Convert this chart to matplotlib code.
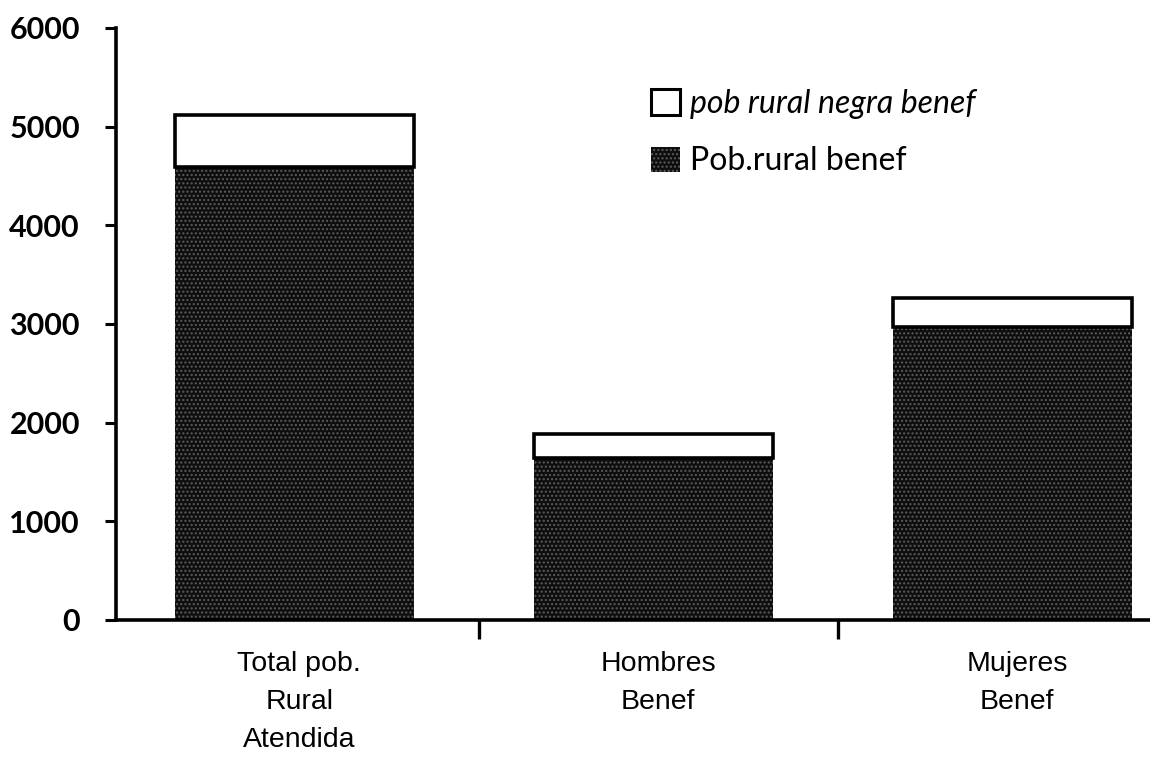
import matplotlib
matplotlib.use("Agg")
import matplotlib.pyplot as plt
from matplotlib.patches import Patch
import numpy as np

# data
categorias = ["Total pob.\nRural\nAtendida", "Hombres\nBenef", "Mujeres\nBenef"]
pob_rural_benef = [4590, 1640, 2970]
pob_rural_negra_benef = [530, 245, 290]
yticks = [0, 1000, 2000, 3000, 4000, 5000, 6000]

fig = plt.figure(figsize=(11.5, 7.62), dpi=100)
ax = fig.add_axes([0.1009, 0.1864, 0.8991, 0.7769])

x = np.arange(len(categorias))
w = 0.665

# dark stippled bottom part
ax.bar(x - 0.012, pob_rural_benef, width=w, color="#0e0e0e", edgecolor="#5c5c5c",
       linewidth=0, hatch="....", zorder=2)
# white top part
ax.bar(x - 0.012, pob_rural_negra_benef, bottom=pob_rural_benef, width=w,
       color="white", edgecolor="black", linewidth=2.6, zorder=2)

ax.set_xlim(-0.51, 2.37)
ax.set_ylim(0, 6000)

for s in ["top", "right"]:
    ax.spines[s].set_visible(False)
ax.spines["left"].set_linewidth(2.6)
ax.spines["bottom"].set_linewidth(2.6)

ax.set_yticks(yticks)
ax.set_yticklabels([str(v) for v in yticks], fontsize=22, fontfamily="Lato",
                   fontweight="bold")
ax.tick_params(axis="y", direction="out", length=8, width=2.2, pad=18)

ax.set_xticks(x)
ax.set_xticklabels(categorias, fontsize=20.5, fontfamily="Liberation Sans",
                   linespacing=1.6)
ax.tick_params(axis="x", which="major", length=0, pad=22)
ax.set_xticks([0.5, 1.5], minor=True)
ax.tick_params(axis="x", which="minor", direction="out", length=14, width=2.4)

handles = [Patch(facecolor="white", edgecolor="black", linewidth=2.2),
           Patch(facecolor="#0e0e0e", edgecolor="#5c5c5c", linewidth=0, hatch="....")]
leg = ax.legend(handles, ["pob rural negra benef", "Pob.rural benef"],
                loc="upper left", bbox_to_anchor=(0.49, 0.945), frameon=False,
                fontsize=23, handlelength=0.9, handleheight=0.85,
                handletextpad=0.3, labelspacing=0.85)
txts = leg.get_texts()
txts[0].set_style("italic")
for t in txts:
    t.set_fontfamily("Lato")

fig.savefig("out.png", dpi=100)
